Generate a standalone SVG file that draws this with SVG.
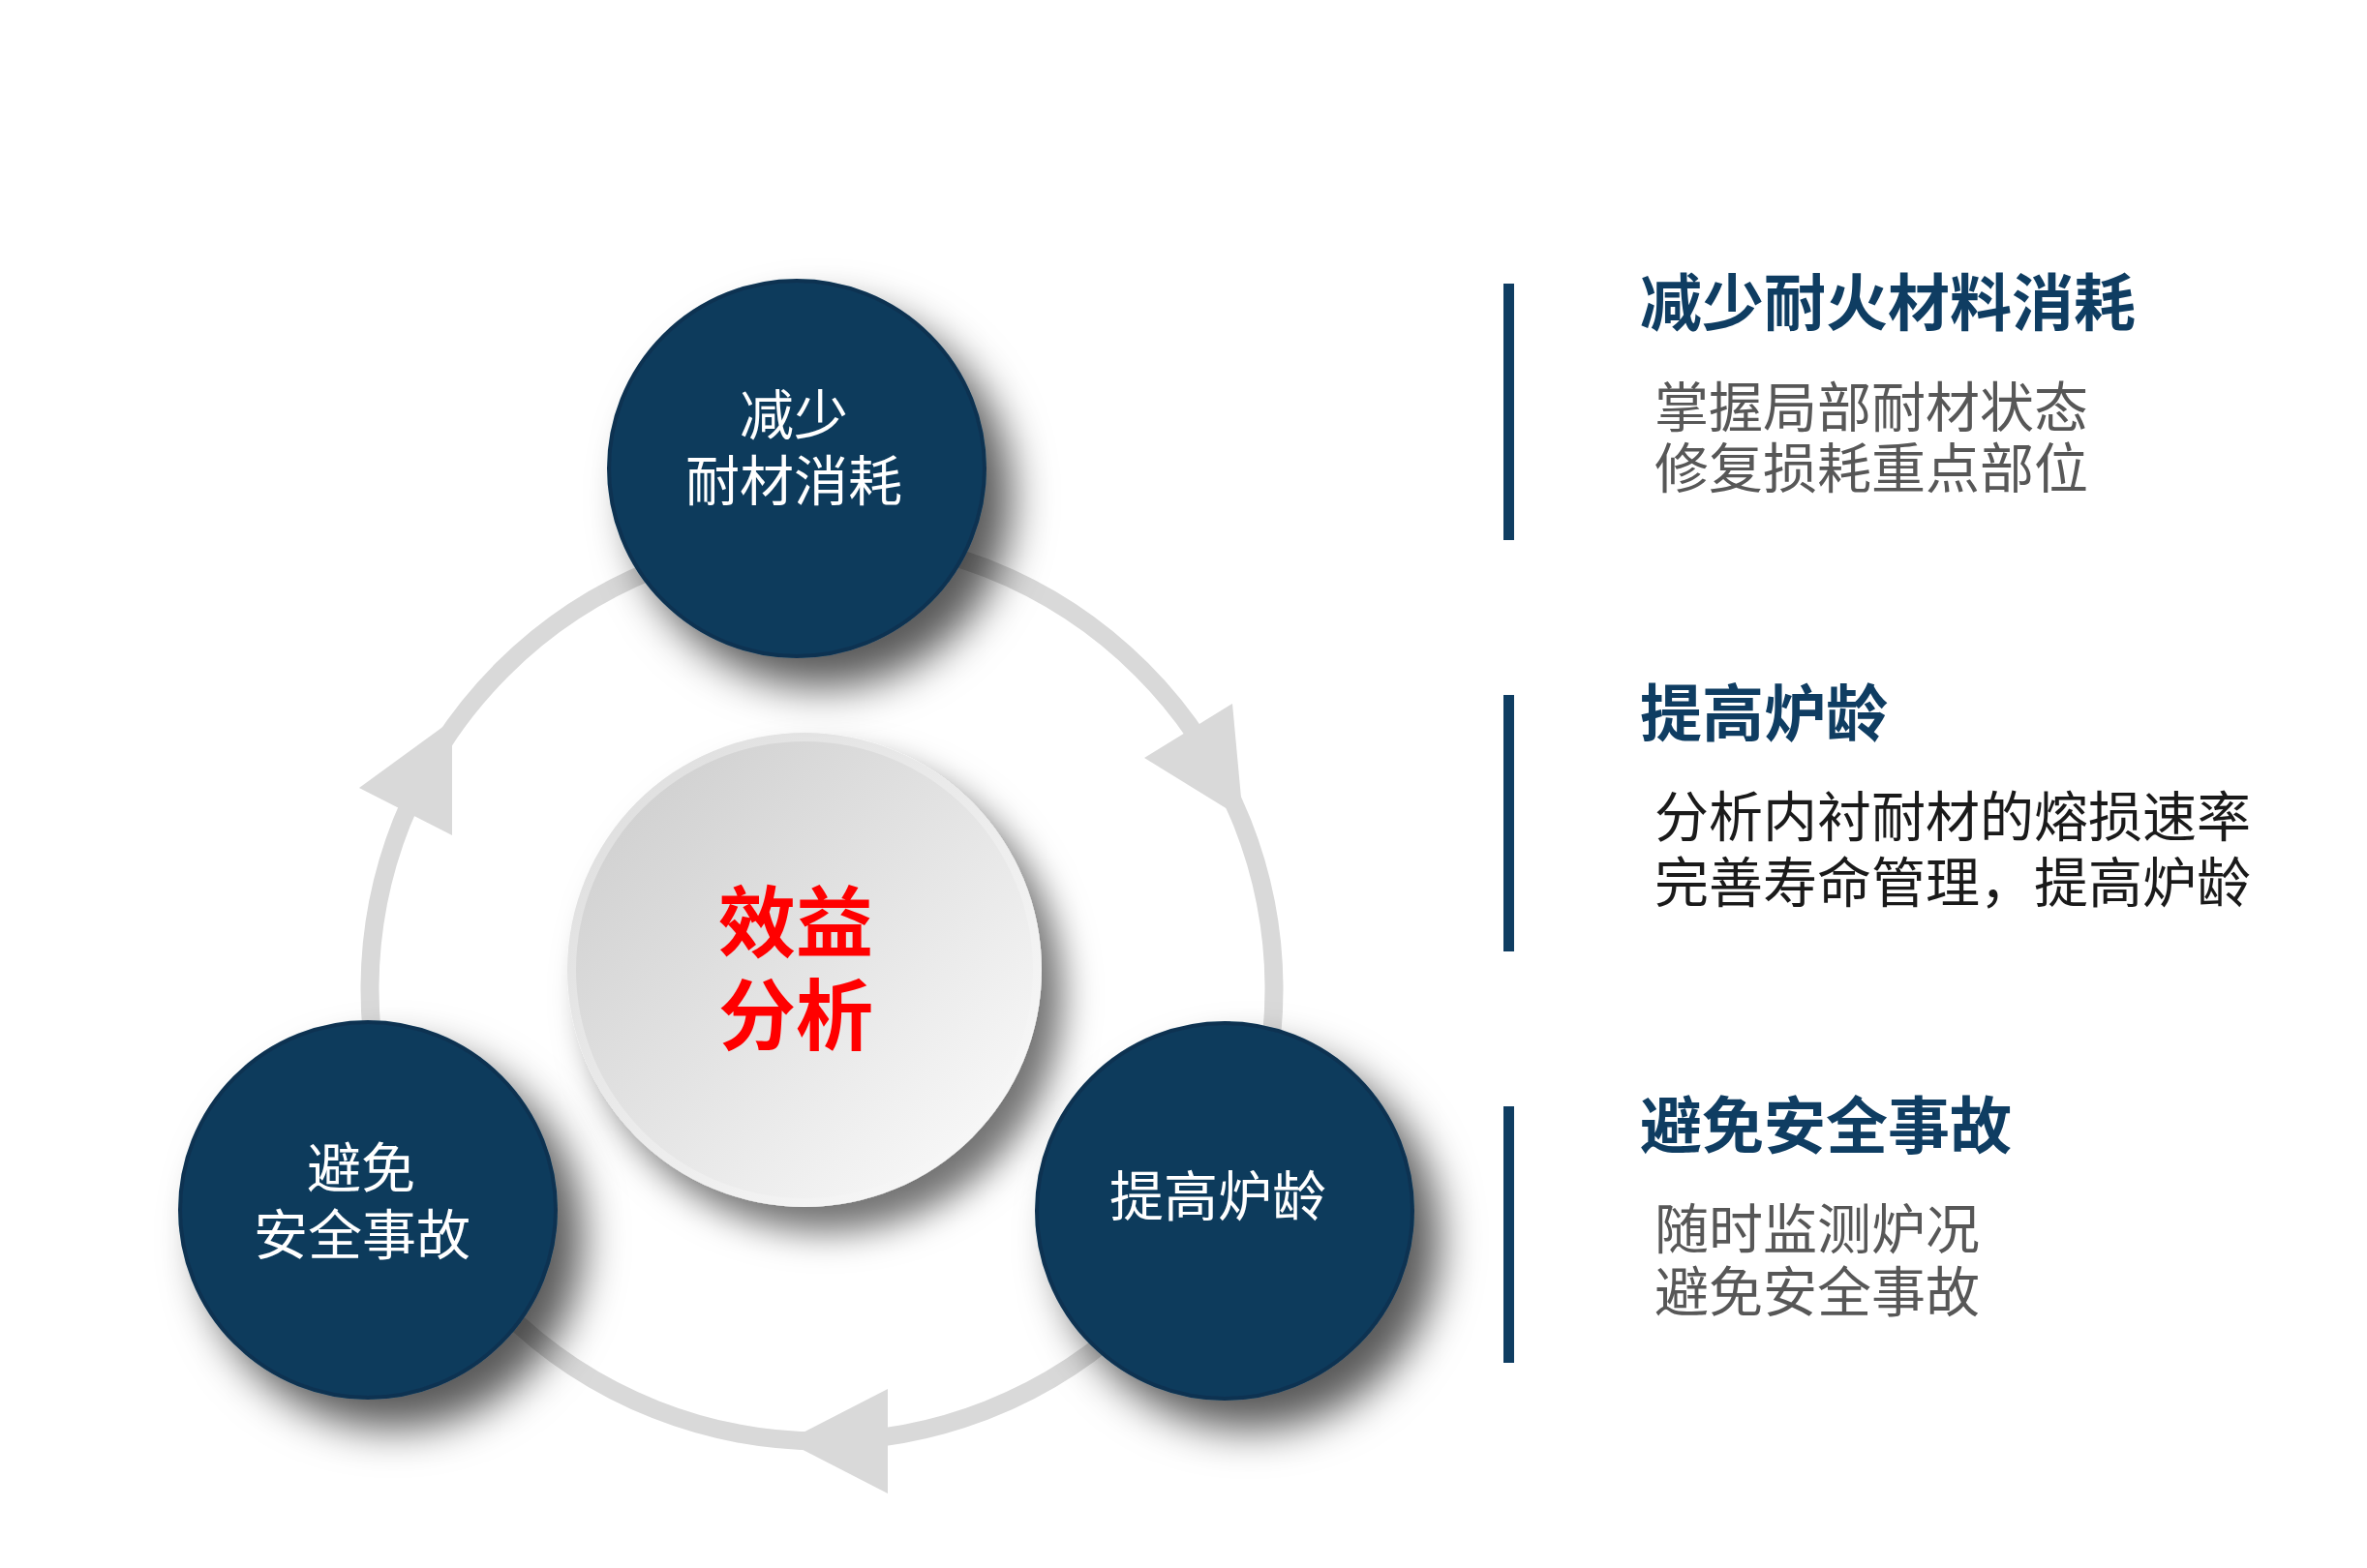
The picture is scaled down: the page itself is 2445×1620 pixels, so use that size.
<svg xmlns="http://www.w3.org/2000/svg" width="2445" height="1620" viewBox="0 0 2445 1620">
<defs>
<filter id="shadow" x="-40%" y="-40%" width="190%" height="190%">
<feDropShadow dx="26" dy="30" stdDeviation="22" flood-color="#000" flood-opacity="0.65"/>
</filter>
<filter id="shadowC" x="-40%" y="-40%" width="190%" height="190%">
<feDropShadow dx="22" dy="26" stdDeviation="18" flood-color="#000" flood-opacity="0.55"/>
</filter>
<linearGradient id="discRim" x1="0" y1="0" x2="1" y2="1">
<stop offset="0" stop-color="#dcdcdc"/>
<stop offset="1" stop-color="#fbfbfb"/>
</linearGradient>
<linearGradient id="discFace" x1="0.1" y1="0.1" x2="0.9" y2="0.9">
<stop offset="0" stop-color="#d0d0d0"/>
<stop offset="1" stop-color="#f8f8f8"/>
</linearGradient>
</defs>
<style>
.ring{fill:none;stroke:#d9d9d9;stroke-width:19}
.head{fill:#d9d9d9}
.navy{fill:#0c3a5c;stroke:#093251;stroke-width:4}
.ct{font-family:"Noto Sans CJK SC",sans-serif;font-size:56px;fill:#ffffff;text-anchor:middle}
.big{font-family:"Noto Sans CJK SC",sans-serif;font-weight:700;font-size:80px;fill:#ff0000;text-anchor:middle}
.title{font-family:"Noto Sans CJK SC",sans-serif;font-weight:700;font-size:64px;fill:#0f3d62}
.sub{font-family:"Noto Sans CJK SC",sans-serif;font-size:56px;fill:#575757}
.subdark{fill:#1a1a1a}
.bar{fill:#0f3d62}
</style>
<rect width="2445" height="1620" fill="#ffffff"/>

<g id="connectors">
<circle class="ring" cx="849" cy="1022" r="467"/>
<polygon class="head" points="1182,783 1273,727 1284,846"/>
<polygon class="head" points="917,1435 917,1543 812,1489"/>
<polygon class="head" points="371,814 467,863 467,744"/>
</g>

<g id="node-center" filter="url(#shadowC)">
<circle cx="831" cy="1002" r="245" fill="url(#discRim)"/>
<circle cx="831" cy="1002" r="236" fill="url(#discFace)"/>
<text class="big"><tspan x="822" y="982">效益</tspan><tspan x="822" y="1078">分析</tspan></text>
</g>

<g id="node-top">
<circle class="navy" cx="823" cy="484" r="194" filter="url(#shadow)"/>
<text class="ct"><tspan x="820" y="449">减少</tspan><tspan x="820" y="517">耐材消耗</tspan></text>
</g>

<g id="node-left">
<circle class="navy" cx="380" cy="1250" r="194" filter="url(#shadow)"/>
<text class="ct"><tspan x="373" y="1227">避免</tspan><tspan x="374" y="1296">安全事故</tspan></text>
</g>

<g id="node-right">
<circle class="navy" cx="1265" cy="1251" r="194" filter="url(#shadow)"/>
<text class="ct" x="1258" y="1256">提高炉龄</text>
</g>

<g id="item-1">
<rect class="bar" x="1553" y="293" width="11" height="265"/>
<text class="title" x="1694" y="336">减少耐火材料消耗</text>
<text class="sub"><tspan x="1709" y="441">掌握局部耐材状态</tspan><tspan x="1709" y="504">修复损耗重点部位</tspan></text>
</g>

<g id="item-2">
<rect class="bar" x="1553" y="718" width="11" height="265"/>
<text class="title" x="1694" y="760">提高炉龄</text>
<text class="sub subdark"><tspan x="1709" y="864">分析内衬耐材的熔损速率</tspan><tspan x="1709" y="932">完善寿命管理，提高炉龄</tspan></text>
</g>

<g id="item-3">
<rect class="bar" x="1553" y="1143" width="11" height="265"/>
<text class="title" x="1694" y="1186">避免安全事故</text>
<text class="sub"><tspan x="1709" y="1290">随时监测炉况</tspan><tspan x="1709" y="1355">避免安全事故</tspan></text>
</g>
</svg>
